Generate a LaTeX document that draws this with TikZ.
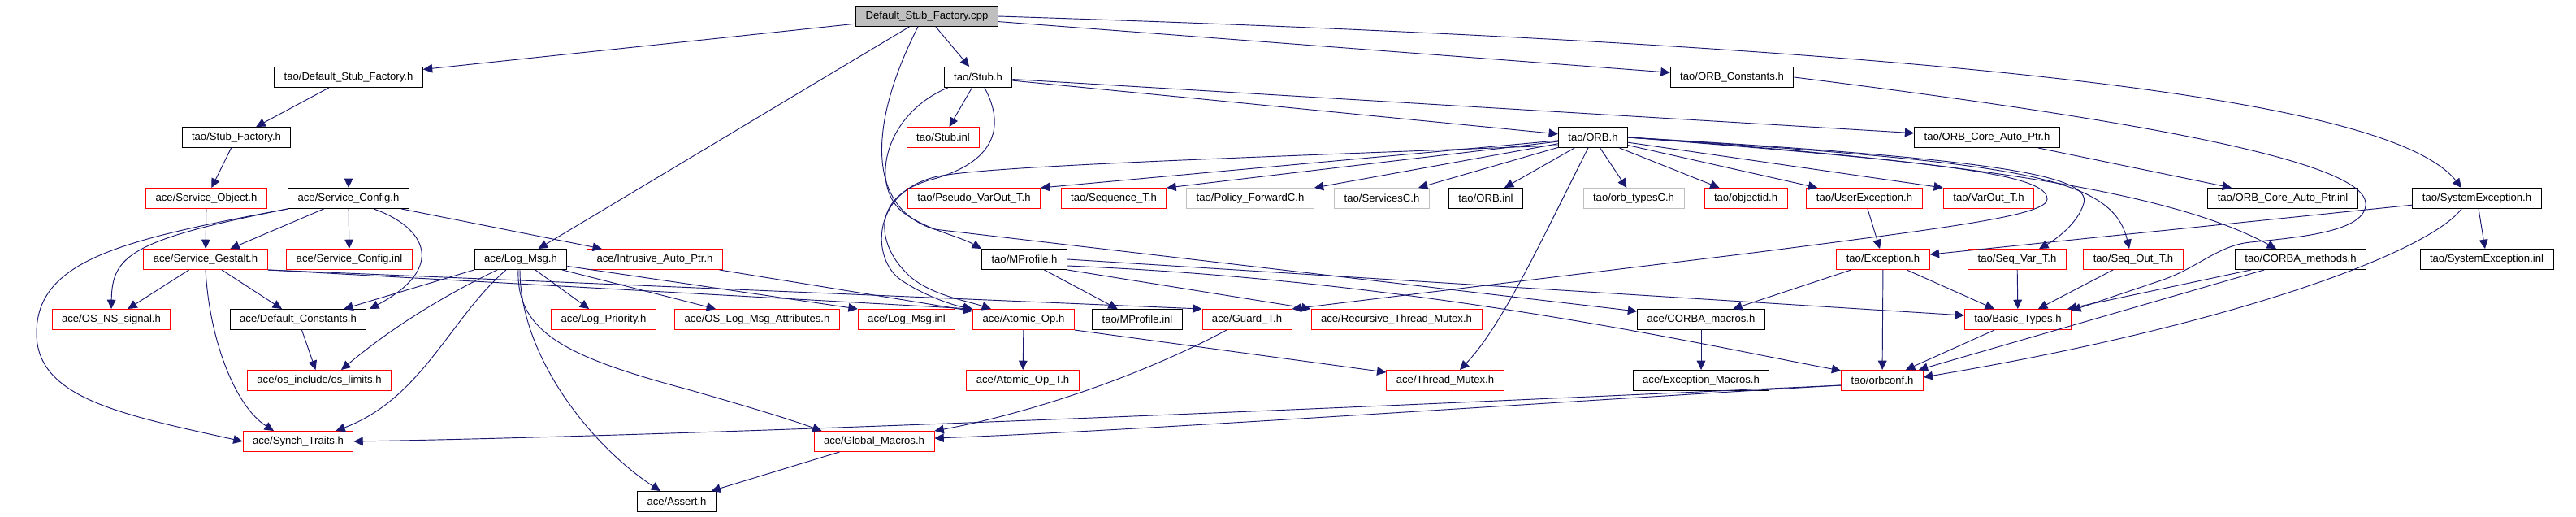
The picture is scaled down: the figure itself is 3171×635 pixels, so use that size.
\documentclass[tikz,border=0pt]{standalone}
\usepackage{fontspec}
\setmainfont{Liberation Sans}
\usetikzlibrary{arrows.meta,calc}

\definecolor{edgeblue}{HTML}{191970}
\definecolor{nodegray}{HTML}{BFBFBF}

\tikzset{
  file/.style={draw=black, line width=0.8pt, rectangle, minimum height=0.75cm,
    inner xsep=0.36cm, inner ysep=0pt, font=\fontsize{11.2}{13}\selectfont},
  redfile/.style={file, draw=red},
  greyfile/.style={file, draw=nodegray},
  rootfile/.style={file, fill=nodegray},
  incl/.style={edgeblue, line width=0.8pt, -{Triangle[length=3.4mm,width=3.2mm]}}
}

\begin{document}
\begin{tikzpicture}[x=0.03cm,y=-0.03cm]
		\useasboundingbox (0,0) rectangle (3171,635);
		% files, row by row
		\node[rootfile] (root) at (1141,20) {Default\_Stub\_Factory.cpp};
		\node[file] (dsf) at (429,95) {tao/Default\_Stub\_Factory.h};
		\node[file] (stub) at (1204,95) {tao/Stub.h};
		\node[file] (orbconst) at (2132,95) {tao/ORB\_Constants.h};
		\node[file] (sf) at (291,169) {tao/Stub\_Factory.h};
		\node[redfile] (stubinl) at (1161,169) {tao/Stub.inl};
		\node[file] (orb) at (1961,169) {tao/ORB.h};
		\node[file] (ocap) at (2446,169) {tao/ORB\_Core\_Auto\_Ptr.h};
		\node[redfile] (so) at (254,244) {ace/Service\_Object.h};
		\node[file] (sc) at (429,244) {ace/Service\_Config.h};
		\node[redfile] (pvo) at (1199,244) {tao/Pseudo\_VarOut\_T.h};
		\node[redfile] (seqt) at (1371,244) {tao/Sequence\_T.h};
		\node[greyfile] (pfc) at (1539,244) {tao/Policy\_ForwardC.h};
		\node[greyfile] (svc) at (1701,244) {tao/ServicesC.h};
		\node[file] (orbinl) at (1829,244) {tao/ORB.inl};
		\node[greyfile] (otc) at (2011,244) {tao/orb\_typesC.h};
		\node[redfile] (oid) at (2149,244) {tao/objectid.h};
		\node[redfile] (uex) at (2295,244) {tao/UserException.h};
		\node[redfile] (vot) at (2448,244) {tao/VarOut\_T.h};
		\node[file] (ocapinl) at (2810,244) {tao/ORB\_Core\_Auto\_Ptr.inl};
		\node[file] (sysex) at (3049,244) {tao/SystemException.h};
		\node[redfile] (sg) at (253,319) {ace/Service\_Gestalt.h};
		\node[redfile] (scinl) at (430,319) {ace/Service\_Config.inl};
		\node[file] (logmsg) at (641,319) {ace/Log\_Msg.h};
		\node[redfile] (iap) at (806,319) {ace/Intrusive\_Auto\_Ptr.h};
		\node[file] (mprof) at (1261,319) {tao/MProfile.h};
		\node[redfile] (exc) at (2318,319) {tao/Exception.h};
		\node[redfile] (svt) at (2483,319) {tao/Seq\_Var\_T.h};
		\node[redfile] (sot) at (2626,319) {tao/Seq\_Out\_T.h};
		\node[file] (cm) at (2832,319) {tao/CORBA\_methods.h};
		\node[file] (sysexinl) at (3061,319) {tao/SystemException.inl};
		\node[redfile] (nssig) at (137,393) {ace/OS\_NS\_signal.h};
		\node[file] (defc) at (367,393) {ace/Default\_Constants.h};
		\node[redfile] (logprio) at (743,393) {ace/Log\_Priority.h};
		\node[redfile] (oslma) at (932,393) {ace/OS\_Log\_Msg\_Attributes.h};
		\node[redfile] (logmsginl) at (1116,393) {ace/Log\_Msg.inl};
		\node[redfile] (aop) at (1260,393) {ace/Atomic\_Op.h};
		\node[file] (mprofinl) at (1400,393) {tao/MProfile.inl};
		\node[redfile] (guard) at (1535,393) {ace/Guard\_T.h};
		\node[redfile] (rtm) at (1719,393) {ace/Recursive\_Thread\_Mutex.h};
		\node[file] (cmac) at (2094,393) {ace/CORBA\_macros.h};
		\node[redfile] (bt) at (2484,393) {tao/Basic\_Types.h};
		\node[redfile] (oslim) at (393,468) {ace/os\_include/os\_limits.h};
		\node[redfile] (aopt) at (1259,468) {ace/Atomic\_Op\_T.h};
		\node[redfile] (tm) at (1779,468) {ace/Thread\_Mutex.h};
		\node[file] (excmac) at (2094,468) {ace/Exception\_Macros.h};
		\node[redfile] (orbconf) at (2317,468) {tao/orbconf.h};
		\node[redfile] (synch) at (367,543) {ace/Synch\_Traits.h};
		\node[redfile] (gm) at (1076,543) {ace/Global\_Macros.h};
		\node[file] (assert) at (833,617) {ace/Assert.h};

		% straight includes
		\foreach \a/\b in {root/dsf, root/stub, root/logmsg, root/orbconst, dsf/sf, dsf/sc,
				sf/so, so/sg, sc/sg, sc/scinl, sc/iap, sg/nssig, sg/defc, logmsg/logprio,
				logmsg/oslma, defc/oslim, iap/aop, aop/aopt, gm/assert, stub/stubinl,
				stub/orb, stub/ocap, ocap/ocapinl, orb/svc, orb/orbinl, orb/otc, orb/oid,
				orb/uex, mprof/mprofinl, cmac/excmac, exc/cmac, exc/orbconf, exc/bt,
				uex/exc, svt/bt, sot/bt, cm/bt, cm/orbconf, bt/orbconf, sysex/exc,
				sysex/sysexinl}{
			\draw[incl] (\a) -- (\b);
		}
		\draw[incl] (sg.south east) -- (aop.north west);
		\draw[incl] (sg.south east) -- (guard.north west);
		\draw[incl] (logmsg.south west) -- ($(defc.north east)+(-28,0)$);
		\draw[incl] (logmsg) -- (logmsginl.north west);
		\draw[incl] (aop.south east) -- ($(tm.west)+(0,-10)$);
		\draw[incl] (orb) -- (pvo.north east);
		\draw[incl] (orb) -- (seqt.north east);
		\draw[incl] (orb) -- (pfc.north east);
		\draw[incl] (orb) -- (vot.north west);
		\draw[incl] (mprof.south east) -- (rtm.north west);
		\draw[incl] (mprof.east) -- ($(bt.west)+(0,-5)$);

		% bent includes
		\draw[incl] (root.east) .. controls (2500,60) and (2950,130) .. ($(sysex.north)+(-19,0)$);
		\draw[incl] ($(root.south)+(-11,0)$) .. controls (1070,150) and (1065,255) .. (1150,282) -- ($(cmac.west)+(0,-10)$);
		\draw[incl] (sc.south west) .. controls (160,295) and (138,315) .. (nssig.north);
		\draw[incl] (sc.south west) .. controls (150,295) and (45,320) .. (45,410) .. controls (45,490) and (150,510) .. (synch.west);
		\draw[incl] ($(sc.south)+(31,0)$) .. controls (525,280) and (550,330) .. ($(defc.north)+(88,0)$);
		\draw[incl] (sg.south) .. controls (258,420) and (290,500) .. ($(synch.north)+(-30,0)$);
		\draw[incl] ($(logmsg.south)+(-29,0)$) .. controls (540,367) and (480,405) .. ($(oslim.north)+(27,0)$);
		\draw[incl] ($(logmsg.south)+(-18,0)$) .. controls (555,390) and (520,490) .. ($(synch.north east)+(-22,0)$);
		\draw[incl] ($(logmsg.south)+(-3,0)$) .. controls (635,410) and (700,440) .. (850,480) .. controls (920,500) and (970,515) .. ($(gm.north west)+(10,0)$);
		\draw[incl] ($(logmsg.south)+(-1,0)$) .. controls (640,440) and (730,550) .. ($(assert.north)+(-20,0)$);
		\draw[incl] ($(guard.south)+(-25,0)$) .. controls (1400,465) and (1260,510) .. (gm.north east);
		\draw[incl] ($(orbconf.west)+(0,6)$) .. controls (1700,500) and (900,535) .. (synch.east);
		\draw[incl] ($(orbconf.west)+(0,6)$) .. controls (1900,495) and (1400,530) .. ($(gm.east)+(0,-4)$);
		\draw[incl] ($(stub.south west)+(5,0)$) .. controls (1090,140) and (1070,225) .. (1110,260) .. controls (1140,283) and (1180,290) .. (mprof.north west);
		\draw[incl] ($(stub.south)+(8,0)$) .. controls (1240,160) and (1220,200) .. (1150,220) .. controls (1070,240) and (1080,300) .. (1115,335) .. controls (1140,362) and (1190,370) .. ($(aop.north)+(-40,0)$);
		\draw[incl] ($(orb.south west)+(0,-3)$) .. controls (1500,195) and (1200,205) .. (1150,218) .. controls (1072,238) and (1072,320) .. (1110,345) .. controls (1135,362) and (1170,375) .. (aop.north west);
		\draw[incl] (orb.east) .. controls (2450,195) and (2575,215) .. (2565,250) .. controls (2558,275) and (2530,295) .. ($(svt.north)+(27,0)$);
		\draw[incl] (orb.east) .. controls (2480,200) and (2600,215) .. ($(sot.north)+(-5,0)$);
		\draw[incl] (orb.east) .. controls (2450,200) and (2680,240) .. ($(cm.north)+(-30,0)$);
		\draw[incl] (orb.east) .. controls (2400,200) and (2520,215) .. (2520,245) .. controls (2520,265) and (2400,280) .. (2150,312) -- (guard.north east);
		\draw[incl] ($(orb.south)+(-6,0)$) .. controls (1900,290) and (1850,400) .. ($(tm.north)+(18,0)$);
		\draw[incl] ($(mprof.east)+(0,8)$) .. controls (1750,345) and (2100,425) .. ($(orbconf.north west)+(0,1)$);
		\draw[incl] ($(sysex.south)+(-19,0)$) .. controls (2990,310) and (2750,400) .. ($(orbconf.east)+(0,-4)$);
		\draw[incl] (orbconst.east) .. controls (2650,150) and (2910,200) .. (2912,250) .. controls (2914,285) and (2830,292) .. (2770,298) .. controls (2730,302) and (2705,330) .. (2660,345) -- ($(bt.north east)+(0,2)$);
\end{tikzpicture}
\end{document}
